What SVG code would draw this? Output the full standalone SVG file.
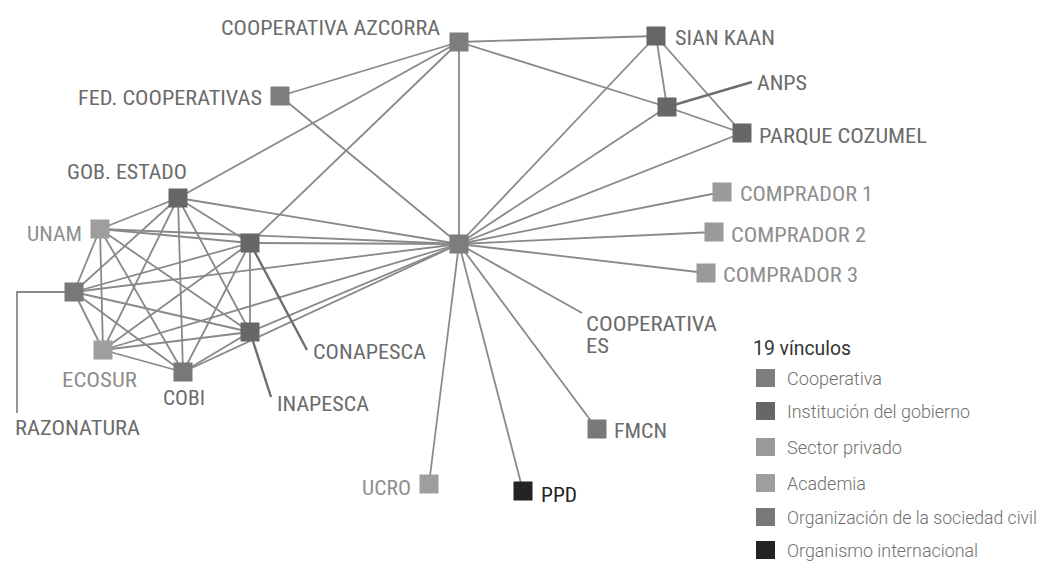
<svg xmlns="http://www.w3.org/2000/svg" width="1046" height="564" viewBox="0 0 1046 564">
<style>
.e{stroke:#898989;stroke-width:1.8;fill:none}
.ld{stroke:#6e6e6e;stroke-width:2.4;fill:none}
.n{stroke:none}
.coop{fill:#7d7d7d}
.gob{fill:#676767}
.priv{fill:#9a9a9a}
.acad{fill:#9e9e9e}
.osc{fill:#787878}
.int{fill:#232323}
text{font-family:"Liberation Sans Narrow","Roboto Condensed","Roboto","Liberation Sans",sans-serif;font-size:20px;fill:#6b6b6b}
.lt{fill:#8e8e8e}
.dk{fill:#222}
.lg{font-family:"Roboto","Liberation Sans Narrow","Liberation Sans",sans-serif;font-weight:300;font-size:19px;fill:#707070}
.ttl{font-family:"Roboto","Liberation Sans",sans-serif;font-weight:400;font-size:20px;fill:#333}
</style>
<rect width="1046" height="564" fill="#ffffff"/>
<g id="connectors">
<line class="e" x1="459" y1="42" x2="280" y2="96"/>
<line class="e" x1="459" y1="42" x2="656" y2="36"/>
<line class="e" x1="459" y1="42" x2="667" y2="107"/>
<line class="e" x1="459" y1="42" x2="459" y2="244"/>
<line class="e" x1="459" y1="42" x2="178" y2="198"/>
<line class="e" x1="459" y1="42" x2="250" y2="243"/>
<line class="e" x1="280" y1="96" x2="459" y2="244"/>
<line class="e" x1="656" y1="36" x2="667" y2="107"/>
<line class="e" x1="656" y1="36" x2="742" y2="133"/>
<line class="e" x1="656" y1="36" x2="459" y2="244"/>
<line class="e" x1="667" y1="107" x2="742" y2="133"/>
<line class="e" x1="667" y1="107" x2="459" y2="244"/>
<line class="e" x1="742" y1="133" x2="459" y2="244"/>
<line class="e" x1="459" y1="244" x2="722" y2="192"/>
<line class="e" x1="459" y1="244" x2="714" y2="232"/>
<line class="e" x1="459" y1="244" x2="706" y2="273"/>
<line class="e" x1="459" y1="244" x2="597" y2="429"/>
<line class="e" x1="459" y1="244" x2="429" y2="484"/>
<line class="e" x1="459" y1="244" x2="523" y2="491"/>
<line class="e" x1="459" y1="244" x2="178" y2="198"/>
<line class="e" x1="459" y1="244" x2="100" y2="229"/>
<line class="e" x1="459" y1="244" x2="250" y2="243"/>
<line class="e" x1="459" y1="244" x2="74" y2="292"/>
<line class="e" x1="459" y1="244" x2="250" y2="332"/>
<line class="e" x1="459" y1="244" x2="103" y2="350"/>
<line class="e" x1="459" y1="244" x2="183" y2="372"/>
<line class="e" x1="178" y1="198" x2="100" y2="229"/>
<line class="e" x1="178" y1="198" x2="250" y2="243"/>
<line class="e" x1="178" y1="198" x2="74" y2="292"/>
<line class="e" x1="178" y1="198" x2="250" y2="332"/>
<line class="e" x1="178" y1="198" x2="103" y2="350"/>
<line class="e" x1="178" y1="198" x2="183" y2="372"/>
<line class="e" x1="100" y1="229" x2="250" y2="243"/>
<line class="e" x1="100" y1="229" x2="74" y2="292"/>
<line class="e" x1="100" y1="229" x2="250" y2="332"/>
<line class="e" x1="100" y1="229" x2="103" y2="350"/>
<line class="e" x1="100" y1="229" x2="183" y2="372"/>
<line class="e" x1="250" y1="243" x2="74" y2="292"/>
<line class="e" x1="250" y1="243" x2="250" y2="332"/>
<line class="e" x1="250" y1="243" x2="103" y2="350"/>
<line class="e" x1="250" y1="243" x2="183" y2="372"/>
<line class="e" x1="74" y1="292" x2="250" y2="332"/>
<line class="e" x1="74" y1="292" x2="103" y2="350"/>
<line class="e" x1="74" y1="292" x2="183" y2="372"/>
<line class="e" x1="250" y1="332" x2="103" y2="350"/>
<line class="e" x1="250" y1="332" x2="183" y2="372"/>
<line class="e" x1="103" y1="350" x2="183" y2="372"/>
<line class="ld" x1="667" y1="107" x2="752" y2="82"/>
<line class="e" x1="459" y1="244" x2="582" y2="313"/>
<line class="ld" x1="250" y1="243" x2="307" y2="350"/>
<line class="ld" x1="250" y1="332" x2="271" y2="397"/>
<polyline class="e" points="74,292 17,292 17,413"/>
</g>
<g id="node-azcorra"><rect class="n coop" x="449.5" y="32.5" width="19" height="19"/><text x="221" y="35" textLength="219" lengthAdjust="spacingAndGlyphs">COOPERATIVA AZCORRA</text></g>
<g id="node-fed"><rect class="n coop" x="270.5" y="86.5" width="19" height="19"/><text x="78" y="105" textLength="184" lengthAdjust="spacingAndGlyphs">FED. COOPERATIVAS</text></g>
<g id="node-siankaan"><rect class="n gob" x="646.5" y="26.5" width="19" height="19"/><text x="675" y="45" textLength="100" lengthAdjust="spacingAndGlyphs">SIAN KAAN</text></g>
<g id="node-anps"><rect class="n gob" x="657.5" y="97.5" width="19" height="19"/><text x="757" y="90" textLength="50" lengthAdjust="spacingAndGlyphs">ANPS</text></g>
<g id="node-cozumel"><rect class="n gob" x="732.5" y="123.5" width="19" height="19"/><text x="759" y="143" textLength="168" lengthAdjust="spacingAndGlyphs">PARQUE COZUMEL</text></g>
<g id="node-es"><rect class="n coop" x="449.5" y="234.5" width="19" height="19"/><text x="586" y="331" textLength="131" lengthAdjust="spacingAndGlyphs">COOPERATIVA</text><text x="586" y="353" textLength="23" lengthAdjust="spacingAndGlyphs">ES</text></g>
<g id="node-comprador1"><rect class="n priv" x="712.5" y="182.5" width="19" height="19"/><text class="lt" x="740" y="201" textLength="133" lengthAdjust="spacingAndGlyphs">COMPRADOR 1</text></g>
<g id="node-comprador2"><rect class="n priv" x="704.5" y="222.5" width="19" height="19"/><text class="lt" x="731" y="242" textLength="135" lengthAdjust="spacingAndGlyphs">COMPRADOR 2</text></g>
<g id="node-comprador3"><rect class="n priv" x="696.5" y="263.5" width="19" height="19"/><text class="lt" x="723" y="282" textLength="135" lengthAdjust="spacingAndGlyphs">COMPRADOR 3</text></g>
<g id="node-fmcn"><rect class="n osc" x="587.5" y="419.5" width="19" height="19"/><text x="614" y="438" textLength="53" lengthAdjust="spacingAndGlyphs">FMCN</text></g>
<g id="node-ucro"><rect class="n acad" x="419.5" y="474.5" width="19" height="19"/><text class="lt" x="362" y="495" textLength="49" lengthAdjust="spacingAndGlyphs">UCRO</text></g>
<g id="node-ppd"><rect class="n int" x="513.5" y="481.5" width="19" height="19"/><text class="dk" x="541" y="502" textLength="36" lengthAdjust="spacingAndGlyphs">PPD</text></g>
<g id="node-gob"><rect class="n gob" x="168.5" y="188.5" width="19" height="19"/><text x="67" y="179" textLength="120" lengthAdjust="spacingAndGlyphs">GOB. ESTADO</text></g>
<g id="node-unam"><rect class="n acad" x="90.5" y="219.5" width="19" height="19"/><text class="lt" x="27" y="241" textLength="55" lengthAdjust="spacingAndGlyphs">UNAM</text></g>
<g id="node-conapesca"><rect class="n gob" x="240.5" y="233.5" width="19" height="19"/><text x="313" y="359" textLength="113" lengthAdjust="spacingAndGlyphs">CONAPESCA</text></g>
<g id="node-razonatura"><rect class="n osc" x="64.5" y="282.5" width="19" height="19"/><text x="15" y="435" textLength="125" lengthAdjust="spacingAndGlyphs">RAZONATURA</text></g>
<g id="node-inapesca"><rect class="n gob" x="240.5" y="322.5" width="19" height="19"/><text x="277" y="411" textLength="92" lengthAdjust="spacingAndGlyphs">INAPESCA</text></g>
<g id="node-ecosur"><rect class="n acad" x="93.5" y="340.5" width="19" height="19"/><text class="lt" x="62" y="387" textLength="75" lengthAdjust="spacingAndGlyphs">ECOSUR</text></g>
<g id="node-cobi"><rect class="n osc" x="173.5" y="362.5" width="19" height="19"/><text x="163" y="405" textLength="42" lengthAdjust="spacingAndGlyphs">COBI</text></g>
<g id="legend">
<text class="ttl" x="753" y="355" textLength="98" lengthAdjust="spacingAndGlyphs">19 vínculos</text>
<rect class="coop" x="756" y="369" width="19" height="18"/><text class="lg" x="787" y="385" textLength="95" lengthAdjust="spacingAndGlyphs">Cooperativa</text>
<rect class="gob" x="756" y="402" width="19" height="18"/><text class="lg" x="787" y="418" textLength="183" lengthAdjust="spacingAndGlyphs">Institución del gobierno</text>
<rect class="priv" x="756" y="438" width="19" height="18"/><text class="lg" x="787" y="454" textLength="115" lengthAdjust="spacingAndGlyphs">Sector privado</text>
<rect class="acad" x="756" y="474" width="19" height="18"/><text class="lg" x="787" y="490" textLength="79" lengthAdjust="spacingAndGlyphs">Academia</text>
<rect class="osc" x="756" y="508" width="19" height="18"/><text class="lg" x="787" y="524" style="font-size:17.5px" textLength="250" lengthAdjust="spacingAndGlyphs">Organización de la sociedad civil</text>
<rect class="int" x="756" y="541" width="19" height="18"/><text class="lg" x="787" y="557" textLength="191" lengthAdjust="spacingAndGlyphs">Organismo internacional</text>
</g>
</svg>
